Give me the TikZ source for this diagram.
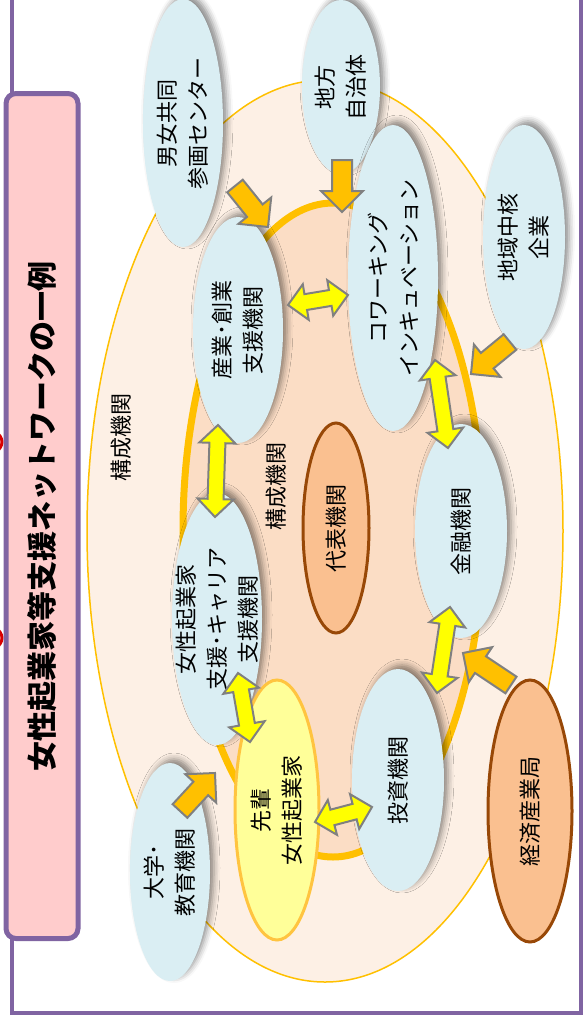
\documentclass[tikz,border=0pt]{standalone}
\usepackage{fontspec}
\setmainfont{Noto Sans CJK JP}
\usetikzlibrary{shapes.geometric}
\usetikzlibrary{calc}
\usetikzlibrary{shadows.blur}

\definecolor{frameviolet}{RGB}{128,100,162}
\definecolor{titlepink}{RGB}{255,204,204}
\definecolor{paleblue}{RGB}{218,238,243}
\definecolor{outerpeach}{RGB}{253,240,229}
\definecolor{innerpeach}{RGB}{251,221,197}
\definecolor{ringorange}{RGB}{255,192,0}
\definecolor{senioryellow}{RGB}{255,255,153}
\definecolor{seniorrim}{RGB}{255,196,64}
\definecolor{leadorange}{RGB}{250,192,144}
\definecolor{leadbrown}{RGB}{152,72,7}
\definecolor{arrgray}{RGB}{128,128,128}
\definecolor{arryellow}{RGB}{255,255,0}

\tikzset{caption/.style={rotate=90,align=center,inner sep=0pt,font=\fontsize{22}{31}\selectfont}}
\tikzset{member/.style={ellipse,inner sep=0pt,fill=paleblue,
  blur shadow={shadow xshift=4pt,shadow yshift=4pt,shadow blur radius=6pt,shadow opacity=45}}}
\tikzset{lead/.style={ellipse,inner sep=0pt,fill=leadorange,draw=leadbrown,line width=3pt}}
\tikzset{senior/.style={ellipse,inner sep=0pt,fill=senioryellow,draw=seniorrim,line width=3pt}}
\tikzset{onearr/.style={fill=ringorange,draw=arrgray,line width=2pt}}
\tikzset{twoarr/.style={fill=arryellow,draw=arrgray,line width=2pt}}

% block arrow, head at #2
\newcommand\onearrow[2]{%
  \draw[onearr] let \p1=($(#2)-(#1)$), \n1={atan2(\y1,\x1)} in
    ($(#1)+({\n1+90}:10pt)$) -- ($(#2)+({\n1+180}:21pt)+({\n1+90}:10pt)$)
    -- ($(#2)+({\n1+180}:21pt)+({\n1+90}:21pt)$) -- (#2)
    -- ($(#2)+({\n1+180}:21pt)+({\n1-90}:21pt)$) -- ($(#2)+({\n1+180}:21pt)+({\n1-90}:10pt)$)
    -- ($(#1)+({\n1-90}:10pt)$) -- cycle;}
% block arrow, heads at both ends
\newcommand\twoarrow[2]{%
  \draw[twoarr] let \p1=($(#2)-(#1)$), \n1={atan2(\y1,\x1)} in
    (#1) -- ($(#1)+(\n1:18pt)+({\n1+90}:18pt)$) -- ($(#1)+(\n1:18pt)+({\n1+90}:8pt)$)
    -- ($(#2)+({\n1+180}:18pt)+({\n1+90}:8pt)$) -- ($(#2)+({\n1+180}:18pt)+({\n1+90}:18pt)$)
    -- (#2) -- ($(#2)+({\n1+180}:18pt)+({\n1-90}:18pt)$) -- ($(#2)+({\n1+180}:18pt)+({\n1-90}:8pt)$)
    -- ($(#1)+(\n1:18pt)+({\n1-90}:8pt)$) -- ($(#1)+(\n1:18pt)+({\n1-90}:18pt)$) -- cycle;}

\begin{document}
\begin{tikzpicture}[x=1pt,y=-1pt]
\useasboundingbox (0,0) rectangle (584,1023);

% frame and title
\draw[frameviolet,line width=4pt] (12,-5) -- (12,1013) -- (581,1013) -- (581,-5);
\draw[red!85!black,line width=3pt] (-4,432) .. controls (4,438) and (4,446) .. (-4,452);
\draw[red!85!black,line width=3pt] (-4,628) .. controls (4,634) and (4,642) .. (-4,648);
\node[rotate=90,draw=frameviolet,fill=titlepink,line width=5pt,rounded corners=10pt,
  minimum width=845pt,minimum height=72pt,font=\bfseries\fontsize{30}{36}\selectfont]
  (title) at (42,516) {女性起業家等支援ネットワークの一例};

% rings
\node[ellipse,fill=outerpeach,draw=ringorange,line width=1.5pt,
  minimum width=476pt,minimum height=902pt] (outer) at (325,531) {};
\node[ellipse,fill=innerpeach,draw=ringorange,line width=7pt,
  minimum width=300pt,minimum height=654pt] (inner) at (333,530) {};
\node[caption] (outerlbl) at (121,437) {構成機関};
\node[caption] (innerlbl) at (276,486) {構成機関};

\node[lead,minimum width=66pt,minimum height=210pt,
  label={[caption]center:代表機関}] (daihyo) at (336,528) {};

% members
\node[member,minimum width=78pt,minimum height=174pt,
  label={[caption]center:地方\\自治体}] (chiho) at (341,87) {};
\node[member,minimum width=80pt,minimum height=248pt,
  label={[caption]center:男女共同\\参画センター}] (danjo) at (183,123) {};
\node[member,minimum width=82pt,minimum height=224pt,
  label={[caption]center:地域中核\\企業}] (chiiki) at (524,237) {};
\node[member,minimum width=90pt,minimum height=306pt,
  label={[caption]center:コワーキング\\インキュベーション}] (cowork) at (393,278) {};
\node[member,minimum width=90pt,minimum height=226pt,
  label={[caption]center:産業･創業\\支援機関}] (sangyo) at (238,330) {};
\node[member,minimum width=90pt,minimum height=252pt,
  label={[caption]center:女性起業家\\支援･キャリア\\支援機関}] (josei) at (217,619) {};
\node[member,minimum width=92pt,minimum height=214pt,
  label={[caption]center:金融機関}] (kinyu) at (461,531) {};
\node[member,minimum width=92pt,minimum height=222pt,
  label={[caption]center:投資機関}] (toshi) at (398,780) {};
\node[member,minimum width=80pt,minimum height=218pt,
  label={[caption]center:大学･\\教育機関}] (daigaku) at (170,872) {};

\node[senior,minimum width=84pt,minimum height=260pt,
  label={[caption]center:先輩\\女性起業家}] (senpai) at (277,810) {};
\node[lead,minimum width=84pt,minimum height=262pt,
  label={[caption]center:経済産業局}] (keizai) at (530,811) {};

% arrow ends
\coordinate (danjoout) at (235,186);
\coordinate (sangyoin) at (268,227);
\coordinate (chihoout) at (342,160);
\coordinate (coworkin) at (342,212);
\coordinate (chiikiout) at (510,342);
\coordinate (ringin) at (471,374);
\coordinate (keizaiout) at (511,685);
\coordinate (kinyuin) at (463,653);
\coordinate (daigakuout) at (180,811);
\coordinate (senpaiin) at (215,773);

\coordinate (sangyoR) at (288,305);
\coordinate (coworkL) at (348,295);
\coordinate (sangyoB) at (218,425);
\coordinate (joseiT) at (215,517);
\coordinate (coworkB) at (435,360);
\coordinate (kinyuT) at (448,448);
\coordinate (kinyuB) at (450,607);
\coordinate (toshiT) at (437,693);
\coordinate (joseiB) at (238,673);
\coordinate (senpaiT) at (250,742);
\coordinate (senpaiR) at (315,822);
\coordinate (toshiL) at (372,807);

\onearrow{danjoout}{sangyoin}
\onearrow{chihoout}{coworkin}
\onearrow{chiikiout}{ringin}
\onearrow{keizaiout}{kinyuin}
\onearrow{daigakuout}{senpaiin}

\twoarrow{sangyoR}{coworkL}
\twoarrow{sangyoB}{joseiT}
\twoarrow{coworkB}{kinyuT}
\twoarrow{kinyuB}{toshiT}
\twoarrow{joseiB}{senpaiT}
\twoarrow{senpaiR}{toshiL}
\end{tikzpicture}
\end{document}
